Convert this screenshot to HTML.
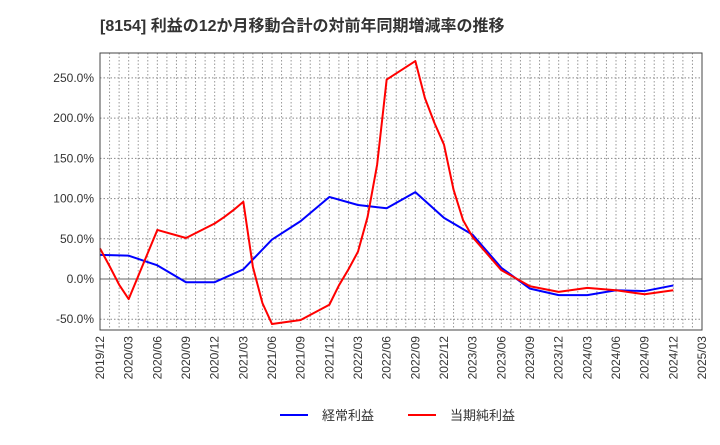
<!DOCTYPE html>
<html><head><meta charset="utf-8"><style>
body{margin:0;background:#fff;font-family:"Liberation Sans","Noto Sans CJK JP",sans-serif;}
</style></head><body>
<svg id="c" width="720" height="440" xmlns="http://www.w3.org/2000/svg" font-family="Liberation Sans, Noto Sans CJK JP, sans-serif">
<text x="100" y="31" font-size="16" font-weight="bold" fill="#333">[8154]  利益の12か月移動合計の対前年同期増減率の推移</text>
<g id="grid"></g><g id="series"></g><g id="axes"></g>
<g>
<line x1="280" y1="415" x2="308" y2="415" stroke="#0000ff" stroke-width="2"/>
<text x="322" y="420" font-size="13" fill="#333">経常利益</text>
<line x1="408" y1="415" x2="436" y2="415" stroke="#ff0000" stroke-width="2"/>
<text x="450" y="420" font-size="13" fill="#333">当期純利益</text>
</g>
</svg>
<script>
const xTickLabels=["2019/12","2020/03","2020/06","2020/09","2020/12","2021/03","2021/06","2021/09","2021/12","2022/03","2022/06","2022/09","2022/12","2023/03","2023/06","2023/09","2023/12","2024/03","2024/06","2024/09","2024/12","2025/03"];
const yTicks=[-50,0,50,100,150,200,250];
const ordMonths=[0,3,6,9,12,15,18,21,24,27,30,33,36,39,42,45,48,51,54,57,60];
const ordValues=[30,29,17,-4,-4,12,49,72,102,92,88,108,76,55,14,-12,-20,-20,-14,-15,-8];
const netMonths=[0,1,2,3,6,9,12,13,14,15,16,17,18,21,24,25,26,27,28,29,30,33,34,35,36,37,38,39,42,45,48,51,54,57,60];
const netValues=[38,16,-7,-25,61,51,69,77,86,96,15,-30,-56,-51,-32,-8,12,34,77,142,248,271,225,194,167,111,73,52,11,-9,-16,-11,-14,-19,-14];
const L=100,R=702,T=53,B=330,yMin=-63.4,yMax=281;
const xs=i=>L+i*(R-L)/63;
const ys=v=>B-(v-yMin)/(yMax-yMin)*(B-T);
const NS="http://www.w3.org/2000/svg";
function mk(tag,attrs,parent){const e=document.createElementNS(NS,tag);for(const k in attrs)e.setAttribute(k,attrs[k]);parent.appendChild(e);return e;}
const grid=document.getElementById('grid'),axes=document.getElementById('axes'),ser=document.getElementById('series');
for(let i=1;i<63;i++){const g=mk('line',{x1:xs(i),x2:xs(i),y1:T,y2:B,stroke:'#999','stroke-dasharray':'1.5,2','stroke-width':1},grid);

}
yTicks.forEach(v=>{const g=mk('line',{x1:L,x2:R,y1:ys(v),y2:ys(v),stroke:v===0?'#666':'#888','stroke-dasharray':v===0?'':'1.5,2','stroke-width':1},grid);


const t=mk('text',{x:L-6,y:ys(v)+4,'text-anchor':'end','font-size':12,fill:'#333'},axes);
t.textContent=v.toFixed(1)+'%';

});
xTickLabels.forEach((s,k)=>{const x=xs(k*3);const t=mk('text',{transform:`translate(${x+4},${B+6}) rotate(-90)`,'text-anchor':'end','font-size':12,fill:'#333'},axes);
t.textContent=s;

});
const fr=mk('rect',{x:L,y:T,width:R-L,height:B-T,fill:'none',stroke:'#444','stroke-width':1},axes);


function line(ms,vs,color,name){const p=mk('polyline',{points:ms.map((m,i)=>xs(m)+','+ys(vs[i])).join(' '),fill:'none',stroke:color,'stroke-width':2,'stroke-linejoin':'round'},ser);

}
line(ordMonths,ordValues,'#0000ff','ordinary-profit-line');
line(netMonths,netValues,'#ff0000','net-income-line');
</script>
</body></html>
